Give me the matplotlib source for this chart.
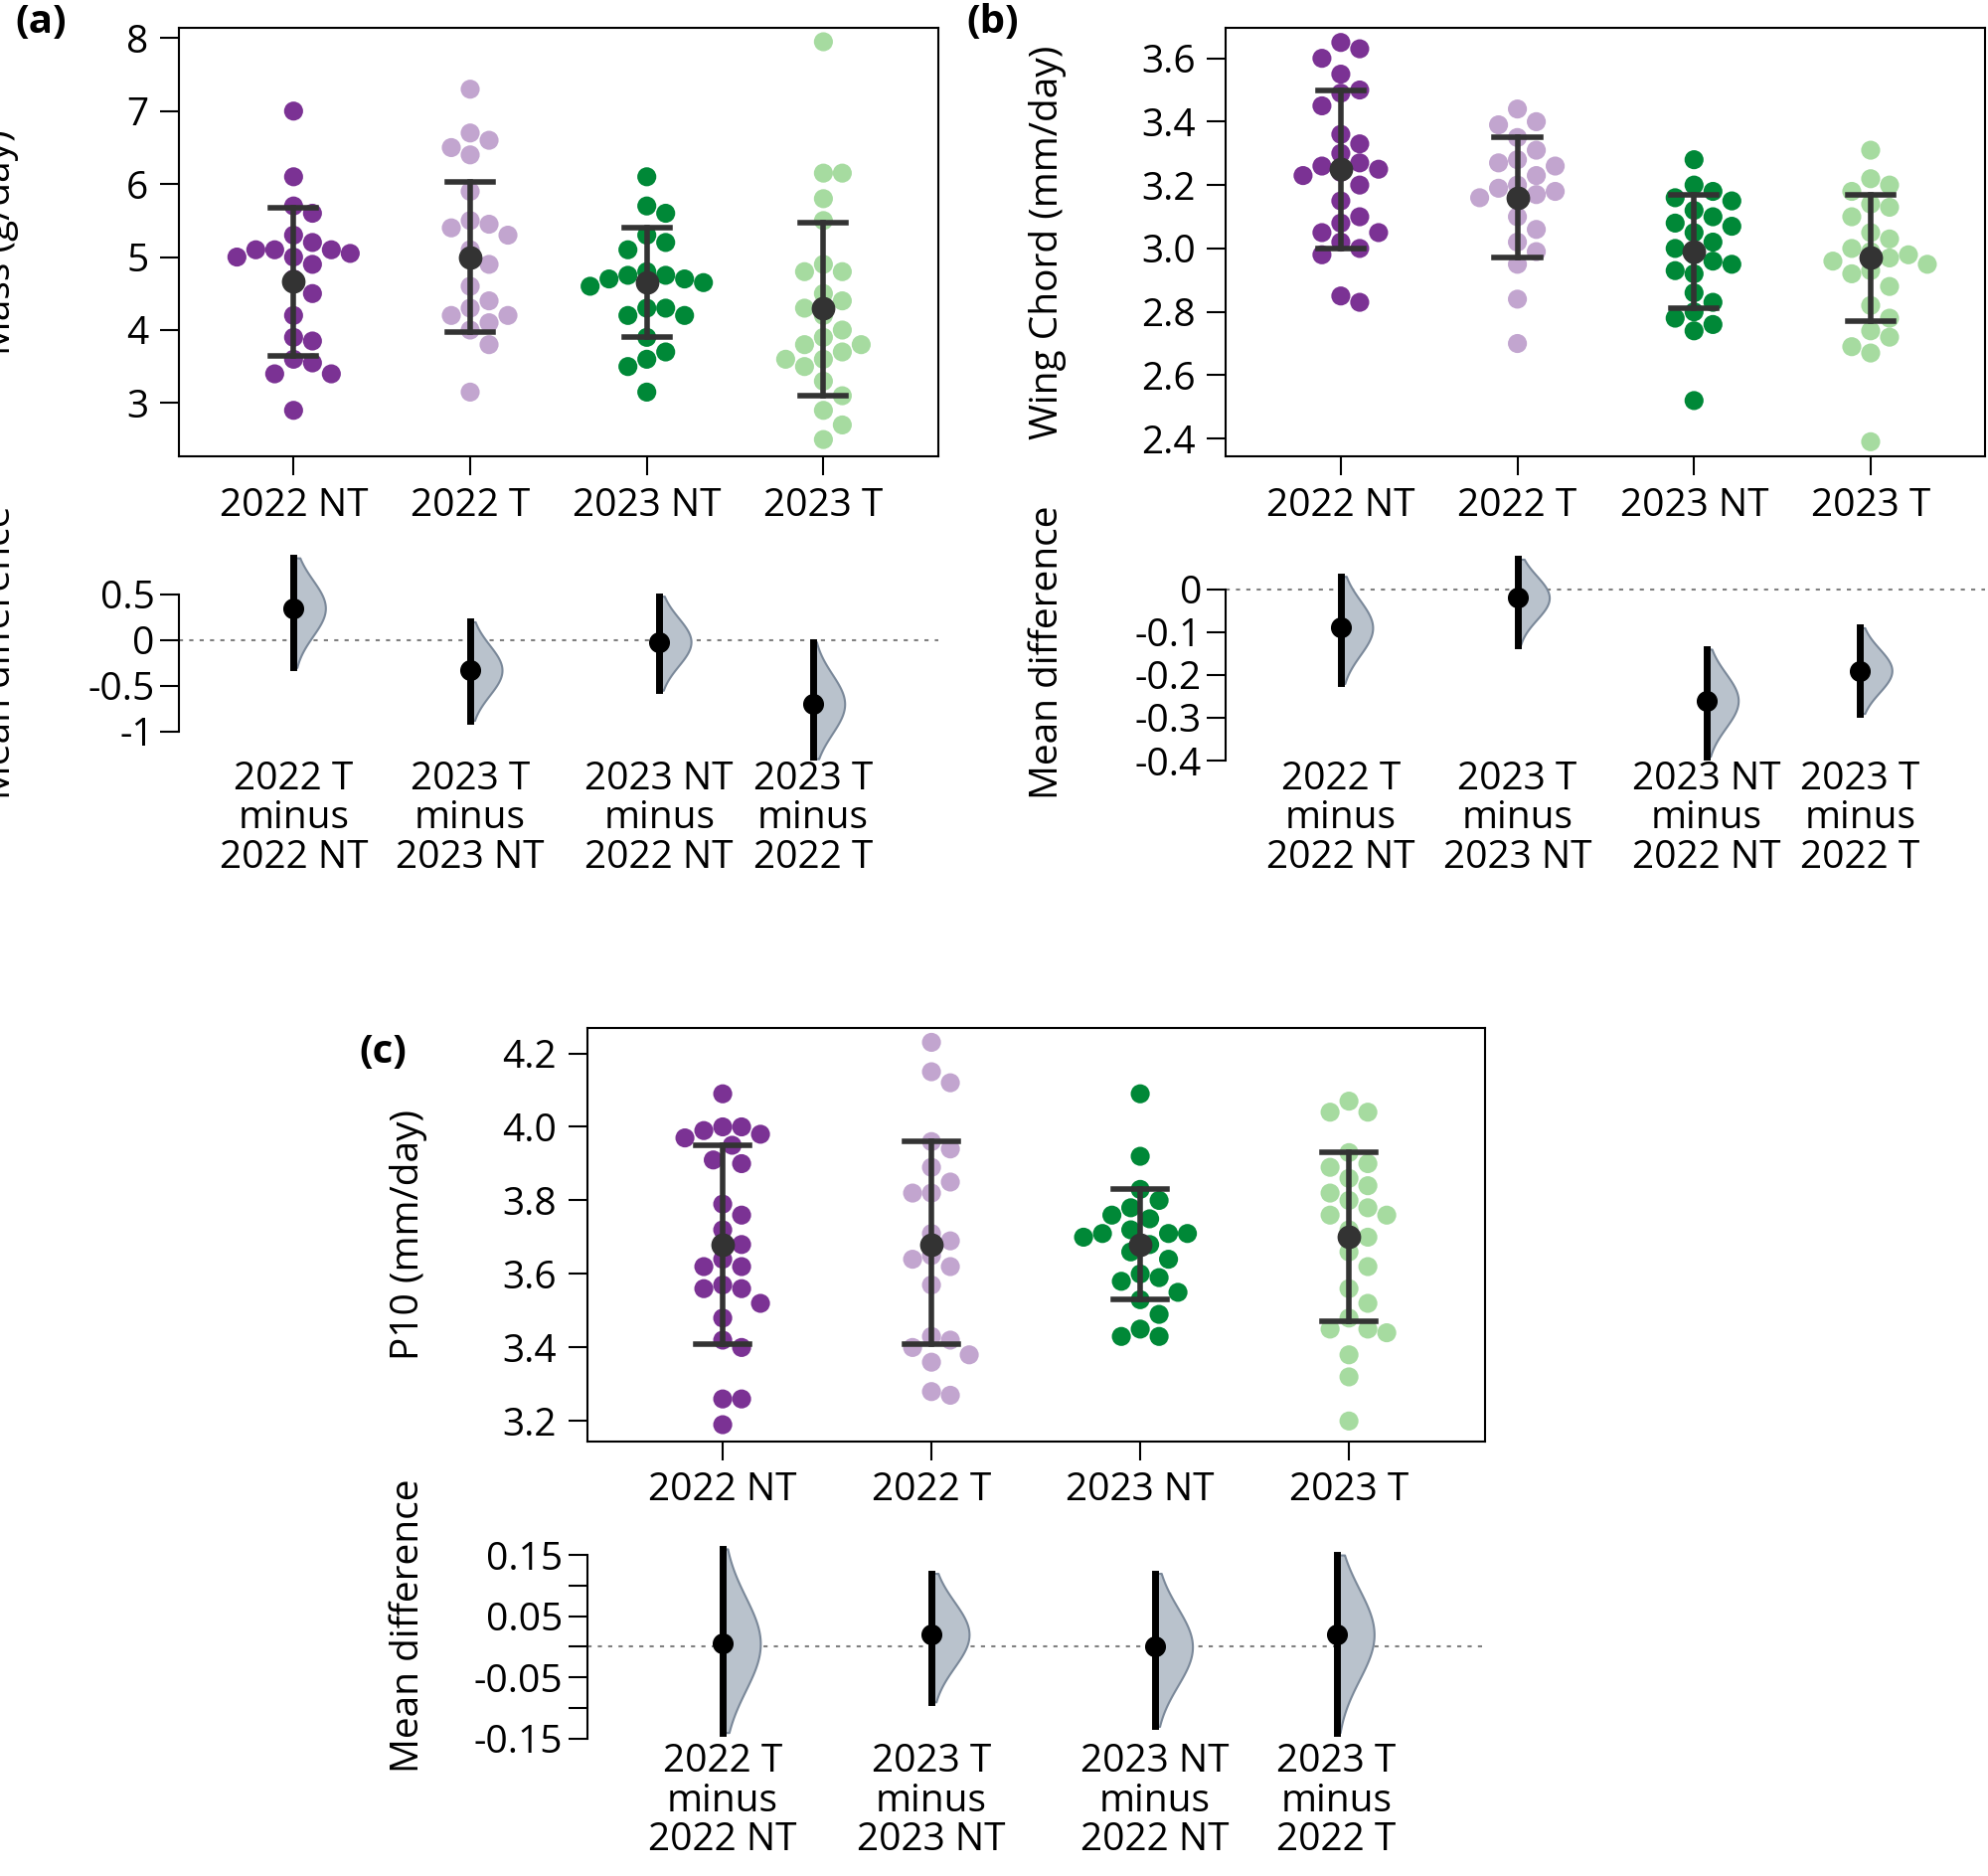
import numpy as np
import matplotlib.pyplot as plt

plt.rcParams['font.family'] = ['Open Sans', 'DejaVu Sans']
plt.rcParams['font.size'] = 28

groups = ["2022 NT", "2022 T", "2023 NT", "2023 T"]
colors = ["#7b3294", "#c2a5cf", "#008837", "#a6dba0"]
diff_labels = ["2022 T\nminus\n2022 NT", "2023 T\nminus\n2023 NT",
               "2023 NT\nminus\n2022 NT", "2023 T\nminus\n2022 T"]

# panel (a) mass
mass = [
    [7.0, 6.1, 5.7, 5.6, 5.3, 5.2, 5.1, 5.1, 5.1, 5.05, 5.0, 5.0, 4.9, 4.7, 4.5, 4.2, 3.9, 3.85, 3.6, 3.55, 3.4, 3.4, 2.9],
    [7.3, 6.7, 6.6, 6.5, 6.4, 5.9, 5.5, 5.45, 5.4, 5.3, 5.1, 4.9, 4.6, 4.4, 4.3, 4.2, 4.2, 4.1, 4.0, 3.8, 3.15],
    [6.1, 5.7, 5.6, 5.3, 5.2, 5.1, 4.8, 4.75, 4.75, 4.7, 4.7, 4.65, 4.6, 4.3, 4.3, 4.2, 4.2, 3.9, 3.7, 3.6, 3.5, 3.15],
    [7.95, 6.15, 6.15, 5.8, 5.5, 4.9, 4.8, 4.8, 4.5, 4.4, 4.3, 4.2, 4.0, 3.9, 3.8, 3.8, 3.7, 3.6, 3.6, 3.5, 3.3, 3.1, 2.9, 2.7, 2.5],
]
mass_mean = [4.67, 5.0, 4.65, 4.3]
mass_lo = [3.65, 3.97, 3.9, 3.1]
mass_hi = [5.68, 6.03, 5.4, 5.47]
mass_diff = [0.35, -0.33, -0.02, -0.7]
mass_diff_lo = [-0.3, -0.88, -0.55, -1.3]
mass_diff_hi = [0.9, 0.2, 0.48, -0.02]

# panel (b) wing chord
wing = [
    [3.65, 3.63, 3.6, 3.55, 3.5, 3.49, 3.45, 3.36, 3.33, 3.3, 3.27, 3.26, 3.25, 3.24, 3.23, 3.2, 3.15, 3.1, 3.08, 3.05, 3.05, 3.02, 3.0, 2.98, 2.85, 2.83],
    [3.44, 3.4, 3.39, 3.35, 3.31, 3.28, 3.27, 3.26, 3.23, 3.2, 3.19, 3.18, 3.17, 3.16, 3.1, 3.06, 3.02, 2.99, 2.95, 2.84, 2.7],
    [3.28, 3.2, 3.18, 3.16, 3.15, 3.12, 3.1, 3.08, 3.07, 3.05, 3.02, 3.0, 2.98, 2.96, 2.95, 2.93, 2.92, 2.86, 2.83, 2.8, 2.78, 2.76, 2.74, 2.52],
    [3.31, 3.22, 3.2, 3.18, 3.14, 3.13, 3.1, 3.05, 3.03, 3.0, 2.99, 2.98, 2.97, 2.96, 2.95, 2.93, 2.92, 2.88, 2.82, 2.78, 2.74, 2.72, 2.69, 2.67, 2.39],
]
wing_mean = [3.25, 3.16, 2.99, 2.97]
wing_lo = [3.0, 2.97, 2.81, 2.77]
wing_hi = [3.5, 3.35, 3.17, 3.17]
wing_diff = [-0.09, -0.02, -0.26, -0.19]
wing_diff_lo = [-0.22, -0.13, -0.39, -0.29]
wing_diff_hi = [0.03, 0.07, -0.14, -0.09]

# panel (c) P10
p10 = [
    [4.09, 4.0, 4.0, 3.99, 3.98, 3.97, 3.95, 3.91, 3.9, 3.79, 3.76, 3.72, 3.68, 3.64, 3.62, 3.62, 3.57, 3.56, 3.56, 3.52, 3.48, 3.42, 3.40, 3.26, 3.26, 3.19],
    [4.23, 4.15, 4.12, 3.96, 3.94, 3.89, 3.85, 3.82, 3.82, 3.71, 3.69, 3.65, 3.64, 3.62, 3.57, 3.43, 3.42, 3.40, 3.38, 3.36, 3.28, 3.27],
    [4.09, 3.92, 3.83, 3.8, 3.78, 3.76, 3.75, 3.72, 3.71, 3.71, 3.71, 3.7, 3.68, 3.66, 3.64, 3.6, 3.59, 3.58, 3.55, 3.53, 3.49, 3.45, 3.43, 3.43],
    [4.07, 4.04, 4.04, 3.93, 3.9, 3.89, 3.86, 3.84, 3.82, 3.8, 3.78, 3.76, 3.76, 3.72, 3.7, 3.66, 3.62, 3.56, 3.52, 3.48, 3.45, 3.45, 3.44, 3.38, 3.32, 3.2],
]
p10_mean = [3.68, 3.68, 3.68, 3.70]
p10_lo = [3.41, 3.41, 3.53, 3.47]
p10_hi = [3.95, 3.96, 3.83, 3.93]
p10_diff = [0.005, 0.02, 0.0, 0.02]
p10_diff_lo = [-0.14, -0.09, -0.13, -0.14]
p10_diff_hi = [0.16, 0.12, 0.12, 0.15]

diff_pos = [1.0, 2.0, 3.07, 3.94]
W, H = 1568.0, 1480.0


def box(x0, y0, x1, y1):
    return [x0 / W, 1 - y1 / H, (x1 - x0) / W, (y1 - y0) / H]


def place_ylabel(ax, rect):
    # label centre about 126 reference px left of the spine
    ax.yaxis.set_label_coords(-126.0 / (rect[2] * W), 0.5)


def swarm(ax, pos, vals, color):
    """simple beeswarm in pixel space"""
    ax.figure.canvas.draw()
    d = 19.0  # point spacing in px
    pts = []
    order = np.argsort(vals)[::-1]
    for i in order:
        ypx = ax.transData.transform((pos, vals[i]))[1]
        k = 0
        while True:
            off = ((k + 1) // 2) * (1 if k % 2 else -1) * 0.5 * d if k else 0.0
            if all((off - ox) ** 2 + (ypx - oy) ** 2 >= d * d for ox, oy in pts):
                break
            k += 1
        pts.append((off, ypx))
    x0 = ax.transData.transform((pos, 0))[0]
    for off, ypx in pts:
        xd, yd = ax.transData.inverted().transform((x0 + off, ypx))
        ax.scatter(xd, yd, s=190, color=color, edgecolor='none', zorder=2)


def top_panel(rect, data, mean, lo, hi, ylim, ticks, ylabel, fmt):
    ax = fig.add_axes(rect)
    ax.set_xlim(0.35, 4.65)
    ax.set_ylim(*ylim)
    for i, vals in enumerate(data):
        swarm(ax, i + 1, vals, colors[i])
        ax.plot([i + 1, i + 1], [lo[i], hi[i]], color='#333333', lw=4, zorder=3)
        for v in (lo[i], hi[i]):
            ax.plot([i + 0.87, i + 1.13], [v, v], color='#333333', lw=4, zorder=3)
        ax.scatter(i + 1, mean[i], s=260, color='#333333', zorder=4)
    ax.set_xticks(range(1, 5))
    ax.set_xticklabels(groups)
    ax.set_yticks(ticks)
    ax.set_yticklabels([fmt.format(t) for t in ticks])
    ax.tick_params(length=14, width=1.5, pad=8)
    ax.set_ylabel(ylabel)
    place_ylabel(ax, rect)
    for s in ax.spines.values():
        s.set_linewidth(1.5)
    return ax


def diff_panel(rect, diff, lo, hi, ylim, ticks, labels):
    ax = fig.add_axes(rect)
    ax.set_xlim(0.35, 4.65)
    ax.set_ylim(*ylim)
    ax.axhline(0, color='gray', ls=(0, (2, 3)), lw=1.5)
    for i in range(4):
        p = diff_pos[i]
        sd = (hi[i] - lo[i]) / 3.92
        y = np.linspace(lo[i], hi[i], 200)
        dens = np.exp(-0.5 * ((y - diff[i]) / sd) ** 2)
        ax.fill_betweenx(y, p, p + 0.18 * dens, color='#b9c2cc',
                         edgecolor='#7a8899', lw=1.5, zorder=2)
        ax.plot([p, p], [lo[i], hi[i]], color='black', lw=5, zorder=3)
        ax.scatter(p, diff[i], s=200, color='black', zorder=4)
    ax.set_xticks(diff_pos)
    ax.set_xticklabels(diff_labels, linespacing=1.05)
    ax.tick_params(axis='x', length=0, pad=0)
    ax.set_yticks(ticks)
    ax.set_yticklabels(labels)
    ax.tick_params(axis='y', length=14, width=1.5)
    for s in ('top', 'right', 'bottom'):
        ax.spines[s].set_visible(False)
    ax.spines['left'].set_bounds(ticks[0], ticks[-1])
    ax.spines['left'].set_linewidth(1.5)
    ax.set_ylabel("Mean difference")
    place_ylabel(ax, rect)
    return ax


def main():
    global fig
    fig = plt.figure(figsize=(20, 18.87), dpi=100)

    # (a)
    top_panel(box(141, 22, 740, 360), mass, mass_mean, mass_lo, mass_hi,
              (2.27, 8.14), [3, 4, 5, 6, 7, 8], "Mass (g/day)", "{:g}")
    diff_panel(box(141, 430, 740, 600), mass_diff, mass_diff_lo, mass_diff_hi,
               (-1.32, 1.04), [-1, -0.5, 0, 0.5], ["-1", "-0.5", "0", "0.5"])
    fig.text(12 / W, 1 - 18 / H, "(a)", fontsize=29, fontweight='bold', va='center')

    # (b)
    top_panel(box(967, 22, 1566, 360), wing, wing_mean, wing_lo, wing_hi,
              (2.344, 3.696), [2.4, 2.6, 2.8, 3.0, 3.2, 3.4, 3.6],
              "Wing Chord (mm/day)", "{:.1f}")
    diff_panel(box(967, 430, 1566, 600), wing_diff, wing_diff_lo, wing_diff_hi,
               (-0.40, 0.103), [-0.4, -0.3, -0.2, -0.1, 0],
               ["-0.4", "-0.3", "-0.2", "-0.1", "0"])
    fig.text(762 / W, 1 - 18 / H, "(b)", fontsize=29, fontweight='bold', va='center')

    # (c)
    top_panel(box(463, 811, 1171, 1137), p10, p10_mean, p10_lo, p10_hi,
              (3.145, 4.269), [3.2, 3.4, 3.6, 3.8, 4.0, 4.2],
              "P10 (mm/day)", "{:.1f}")
    diff_panel(box(463, 1190, 1171, 1375), p10_diff, p10_diff_lo, p10_diff_hi,
               (-0.157, 0.226), [-0.15, -0.1, -0.05, 0, 0.05, 0.1, 0.15],
               ["-0.15", "", "-0.05", "", "0.05", "", "0.15"])
    fig.text(283 / W, 1 - 830 / H, "(c)", fontsize=29, fontweight='bold', va='center')

    fig.savefig("out.png", dpi=100)


if __name__ == "__main__":
    main()
